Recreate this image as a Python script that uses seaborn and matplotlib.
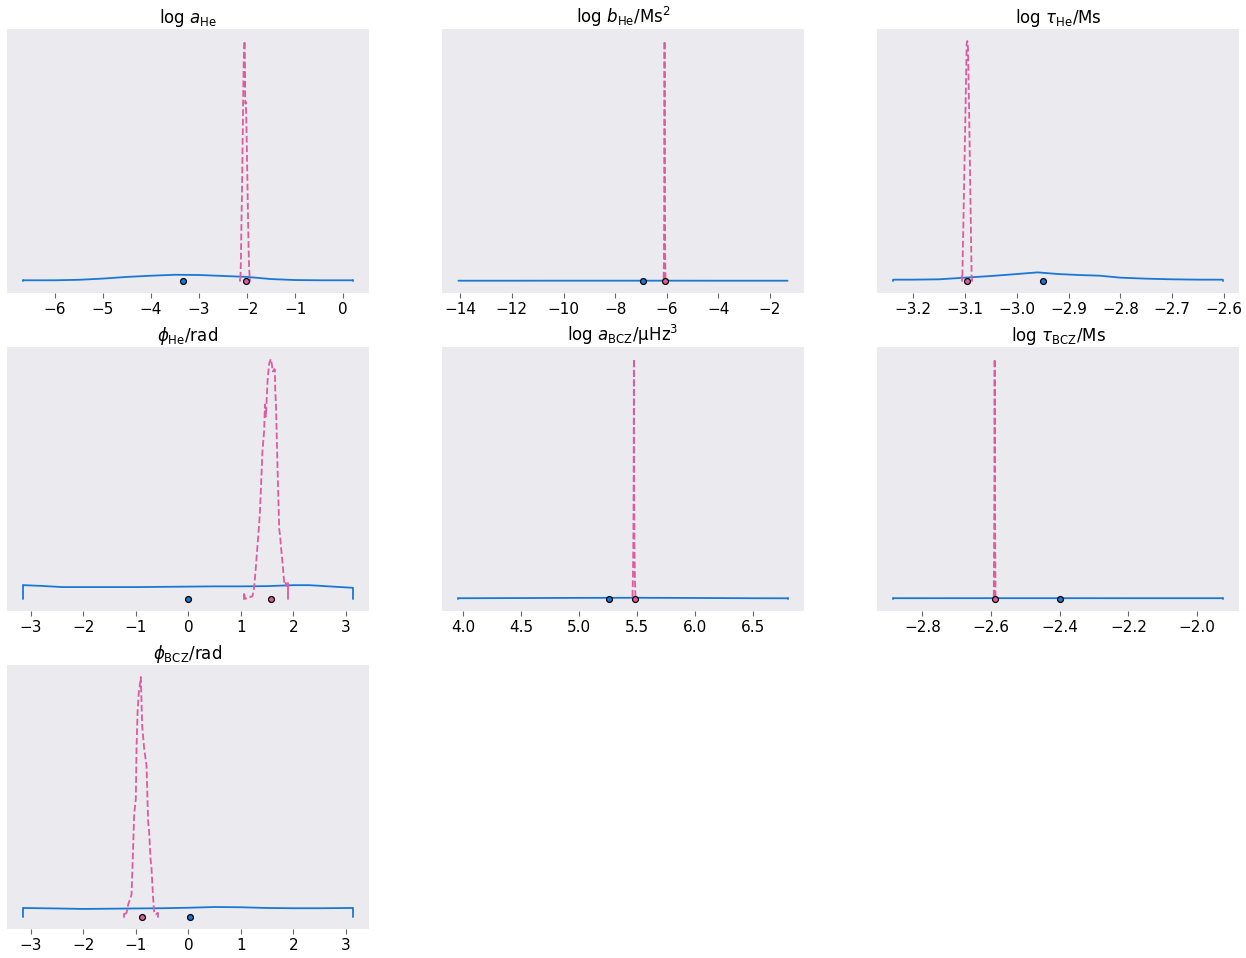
import numpy as np
import pandas as pd
import matplotlib
matplotlib.use("Agg")
import matplotlib.pyplot as plt
from matplotlib.ticker import MultipleLocator
import seaborn as sns

# ---------------- data (heights relative to posterior peak) ----------------
titles = [r"log $a_\mathrm{He}$",
          r"log $b_\mathrm{He}/\mathrm{Ms}^2$",
          r"log $\tau_\mathrm{He}$/Ms",
          r"$\phi_\mathrm{He}$/rad",
          r"log $a_\mathrm{BCZ}$/μHz$^3$",
          r"log $\tau_\mathrm{BCZ}$/Ms",
          r"$\phi_\mathrm{BCZ}$/rad"]
tick_steps = [1, 2, 0.1, 1, 0.5, 0.2, 1]

# panel 1: log a_He
prior1_x = [-6.655, -6.0, -5.5, -5.0, -4.5, -4.0, -3.5, -3.0, -2.5, -2.0, -1.5, -1.0, -0.5, 0.193]
prior1_y = [0.003, 0.003, 0.005, 0.010, 0.017, 0.022, 0.026, 0.025, 0.021, 0.017, 0.008, 0.004, 0.003, 0.003]
post1_x = [-2.14, -2.13, -2.12, -2.11, -2.10, -2.09, -2.08, -2.07, -2.06, -2.05, -2.045, -2.04,
           -2.035, -2.03, -2.02, -2.01, -2.00, -1.99, -1.98, -1.97, -1.96, -1.946]
post1_y = [0.01, 0.08, 0.22, 0.34, 0.48, 0.64, 0.80, 0.92, 0.99, 1.00, 0.90, 0.76,
           0.74, 0.745, 0.70, 0.60, 0.48, 0.36, 0.25, 0.14, 0.06, 0.01]
prior1_pt, post1_pt = -3.33, -2.02

# panel 2: log b_He
prior2_x = [-14.07, -12.0, -10.0, -8.0, -7.0, -6.0, -4.0, -2.5, -1.32]
prior2_y = [0.0012, 0.0012, 0.0013, 0.0013, 0.0013, 0.0013, 0.0012, 0.0012, 0.0012]
post2_x = [-6.12, -6.11, -6.10, -6.095, -6.09, -6.085, -6.08, -6.075, -6.07, -6.06, -6.05]
post2_y = [0.01, 0.08, 0.30, 0.62, 0.90, 1.00, 0.88, 0.60, 0.35, 0.10, 0.01]
prior2_pt, post2_pt = -6.92, -6.07

# panel 3: log tau_He
prior3_x = [-3.238, -3.20, -3.15, -3.10, -3.05, -3.00, -2.96, -2.92, -2.88, -2.84,
            -2.80, -2.75, -2.70, -2.65, -2.603]
prior3_y = [0.0055, 0.0055, 0.0069, 0.0138, 0.0206, 0.0289, 0.0358, 0.0289, 0.0248, 0.0220,
            0.0138, 0.0096, 0.0069, 0.0055, 0.0055]
post3_x = [-3.1050, -3.1045, -3.1031, -3.1018, -3.1005, -3.0992, -3.0979, -3.0967, -3.0954,
           -3.0942, -3.0922, -3.0903, -3.0884, -3.0871]
post3_y = [0.02, 0.09, 0.238, 0.39, 0.543, 0.695, 0.848, 0.99, 1.00,
           0.97, 0.73, 0.46, 0.19, 0.01]
prior3_pt, post3_pt = -2.95, -3.096

# panel 4: phi_He
prior4_x = [-3.142, -2.8, -2.4, -2.0, -1.5, -1.0, -0.5, 0.0, 0.5, 1.0, 1.5, 2.0, 2.3, 2.6, 2.9, 3.126]
prior4_y = [0.057, 0.054, 0.049, 0.049, 0.049, 0.049, 0.050, 0.051, 0.052, 0.052, 0.053,
            0.057, 0.057, 0.053, 0.049, 0.046]
post4_x = [1.063, 1.08, 1.221, 1.253, 1.286, 1.349, 1.362, 1.412, 1.444, 1.457, 1.476, 1.507,
           1.539, 1.571, 1.590, 1.610, 1.634, 1.648, 1.653, 1.667, 1.697, 1.730, 1.749,
           1.762, 1.793, 1.825, 1.844, 1.869, 1.895]
post4_y = [0.02, 0.0, 0.011, 0.05, 0.136, 0.317, 0.358, 0.622, 0.705, 0.81, 0.76, 0.907,
           0.983, 1.0, 0.976, 0.948, 0.958, 0.955, 0.872, 0.817, 0.553, 0.289, 0.261,
           0.219, 0.15, 0.067, 0.073, 0.053, 0.067]
prior4_pt, post4_pt = 0.0, 1.564

# panel 5: log a_BCZ
prior5_x = [3.957, 4.5, 5.0, 5.5, 6.0, 6.5, 6.795]
prior5_y = [0.0031, 0.0038, 0.0045, 0.0050, 0.0041, 0.0031, 0.0028]
post5_x = [5.458, 5.462, 5.465, 5.468, 5.470, 5.472, 5.475, 5.479, 5.483]
post5_y = [0.01, 0.10, 0.22, 0.50, 1.00, 0.55, 0.22, 0.08, 0.01]
prior5_pt, post5_pt = 5.256, 5.476

# panel 6: log tau_BCZ
prior6_x = [-2.884, -2.6, -2.4, -2.2, -1.926]
prior6_y = [0.0032, 0.0033, 0.0033, 0.0032, 0.0032]
post6_x = [-2.592, -2.5905, -2.5895, -2.5885, -2.587]
post6_y = [0.01, 0.40, 1.00, 0.40, 0.01]
prior6_pt, post6_pt = -2.40, -2.589

# panel 7: phi_BCZ
prior7_x = [-3.142, -2.5, -2.0, -1.5, -1.0, -0.5, 0.0, 0.5, 1.0, 1.5, 2.0, 2.5, 3.126]
prior7_y = [0.037, 0.035, 0.033, 0.034, 0.035, 0.036, 0.038, 0.041, 0.040, 0.037, 0.036, 0.036, 0.037]
post7_x = [-1.229, -1.177, -1.147, -1.083, -1.063, -1.033, -1.001, -0.988, -0.968, -0.944,
           -0.925, -0.906, -0.893, -0.881, -0.843, -0.817, -0.798, -0.767, -0.748, -0.722,
           -0.703, -0.672, -0.653, -0.621, -0.577]
post7_y = [0.01, 0.017, 0.051, 0.092, 0.217, 0.424, 0.493, 0.70, 0.852, 0.935,
           0.963, 0.997, 0.894, 0.797, 0.70, 0.659, 0.631, 0.396, 0.355, 0.244,
           0.203, 0.079, 0.023, 0.01, 0.017]
prior7_pt, post7_pt = 0.03, -0.881

panels = [
    (prior1_x, prior1_y, post1_x, post1_y, prior1_pt, post1_pt),
    (prior2_x, prior2_y, post2_x, post2_y, prior2_pt, post2_pt),
    (prior3_x, prior3_y, post3_x, post3_y, prior3_pt, post3_pt),
    (prior4_x, prior4_y, post4_x, post4_y, prior4_pt, post4_pt),
    (prior5_x, prior5_y, post5_x, post5_y, prior5_pt, post5_pt),
    (prior6_x, prior6_y, post6_x, post6_y, prior6_pt, post6_pt),
    (prior7_x, prior7_y, post7_x, post7_y, prior7_pt, post7_pt),
]

# ---------------- style ----------------
sns.set_theme(style="dark", rc={
    "axes.facecolor": "#EAEAEF",
    "figure.facecolor": "white",
    "text.color": "black",
    "xtick.bottom": True,
    "xtick.major.size": 3.5,
    "xtick.major.width": 0.8,
    "xtick.color": "#666666",
    "xtick.labelcolor": "black",
    "axes.spines.left": False, "axes.spines.right": False,
    "axes.spines.top": False, "axes.spines.bottom": False,
})
plt.rcParams["font.family"] = ["DejaVu Sans"]

PRIOR_C = "#1878D6"
POST_C = "#DC5CA0"
LW = 1.3

fig = plt.figure(figsize=(12.46, 9.58), dpi=100)
gs = fig.add_gridspec(3, 3, left=0.0056, right=0.9944, top=0.9697, bottom=0.0303,
                      wspace=0.2017, hspace=0.2045)

for i, (px, py, qx, qy, ppt, qpt) in enumerate(panels):
    ax = fig.add_subplot(gs[i // 3, i % 3])
    pri = pd.DataFrame({"x": px, "y": py})
    pos = pd.DataFrame({"x": qx, "y": qy})
    sns.lineplot(data=pri, x="x", y="y", ax=ax, color=PRIOR_C, lw=LW,
                 estimator=None, sort=False, zorder=3)
    sns.lineplot(data=pos, x="x", y="y", ax=ax, color=POST_C, lw=LW,
                 linestyle="--", estimator=None, sort=False, zorder=4)
    # outline edges (arviz style)
    for df, c in ((pri, PRIOR_C), (pos, POST_C)):
        for j in (0, -1):
            xe, ye = df["x"].iloc[j], df["y"].iloc[j]
            ax.plot([xe, xe], [-ye / 100, ye], color=c, lw=LW, zorder=3)
    sns.scatterplot(x=[ppt], y=[0], ax=ax, color=PRIOR_C, edgecolor="black",
                    linewidth=0.9, s=18, zorder=5)
    sns.scatterplot(x=[qpt], y=[0], ax=ax, color=POST_C, edgecolor="black",
                    linewidth=0.9, s=18, zorder=5)
    ax.xaxis.set_major_locator(MultipleLocator(tick_steps[i]))
    ax.set_yticks([])
    ax.set_xlabel("")
    ax.set_ylabel("")
    ax.set_title(titles[i], fontsize=12, pad=4, color="black")
    ax.tick_params(axis="x", labelsize=11, pad=3)
    ax.grid(False)

fig.savefig("out.png", dpi=100)
